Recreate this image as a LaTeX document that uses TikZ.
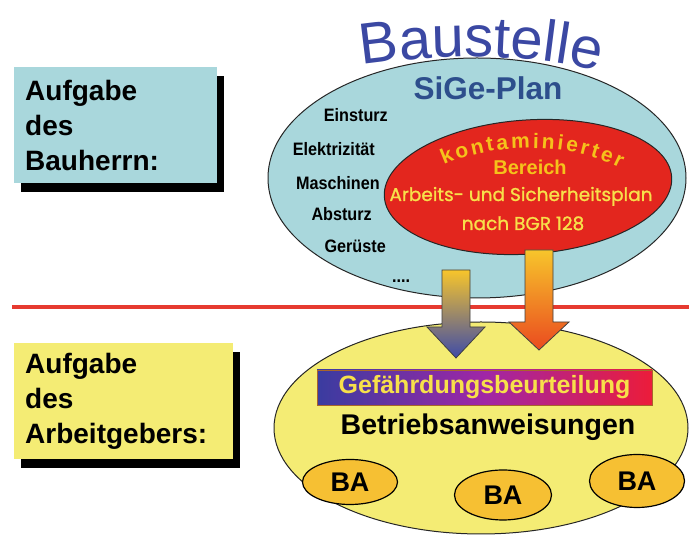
\documentclass[tikz,border=0pt]{standalone}
\usepackage{fontspec}
\setmainfont{Liberation Sans}
\newfontfamily\geofont[FakeBold=1.2]{Poppins}
\newfontfamily\narrowfont[FakeStretch=0.9]{Liberation Sans}
\usepackage{xcolor}
\usetikzlibrary{positioning}
\usetikzlibrary{shapes.geometric}
\usetikzlibrary{shadows}
\usetikzlibrary{decorations.text}
\definecolor{lightteal}{HTML}{A9D7DC}
\definecolor{paleyellow}{HTML}{F4EC74}
\definecolor{signalred}{HTML}{E3261E}
\definecolor{baorange}{HTML}{F6C033}
\definecolor{siteblue}{HTML}{3B48A3}
\definecolor{planblue}{HTML}{2D4E8C}
\definecolor{linered}{HTML}{E63A30}
\definecolor{textyellow}{HTML}{F7E04A}
\definecolor{textamber}{HTML}{F5C21B}
\definecolor{barblue}{HTML}{3A3CA0}
\definecolor{barpurple}{HTML}{A026A6}
\definecolor{barred}{HTML}{EC1C3A}
\definecolor{barrim}{HTML}{A8652A}
\definecolor{arrowtop}{HTML}{F7C52B}
\definecolor{arrowblue}{HTML}{3E4BA8}
\definecolor{arroworange}{HTML}{EA4A1F}
\newcommand\boxfont{\fontsize{28}{35}\selectfont\bfseries}
\newcommand\hazardfont{\narrowfont\fontsize{18}{19}\selectfont\bfseries}
\tikzset{
  % A task box with a hard black shadow
  taskbox/.style={
    draw=none, rectangle, align=left, font=\boxfont, text width=#1,
    inner xsep=11pt, inner ysep=0pt, minimum height=116pt,
    drop shadow={fill=black, opacity=1, shadow xshift=7pt, shadow yshift=-9pt}},
  % An area of the site
  zone/.style={ellipse, draw=black!85, line width=1pt, inner sep=0pt},
  % Hazards listed in the SiGe plan
  hazard/.style={font=\hazardfont, inner sep=0pt},
  % Century-Gothic-like yellow text
  geo/.style={font=\geofont\fontsize{18.5}{19}\selectfont, text=textyellow, inner sep=0pt},
  amber/.style={font=\fontsize{20}{21}\selectfont\bfseries, text=textamber, inner sep=0pt},
  % Operating instruction badge
  badge/.style={ellipse, draw=black, line width=1.2pt, fill=baorange,
    font=\fontsize{27}{28}\selectfont\bfseries, inner sep=0pt},
  riskbar/.style={rectangle, draw=barrim, line width=0.6pt, left color=barblue,
    right color=barred, middle color=barpurple, text=textyellow,
    font=\fontsize{25}{26}\selectfont\bfseries, inner sep=0pt},
  blockarrow/.style={draw=black!75, line width=0.8pt, top color=arrowtop},
  divider/.style={draw=linered, line width=3.5pt},
}
\begin{document}
\begin{tikzpicture}[x=1pt, y=1pt]
\useasboundingbox (0,0) rectangle (689,535);
\fill[white] (0,0) rectangle (689,535);

% who is responsible
\node[taskbox=181pt, fill=lightteal, anchor=north west] (owner) at (14,468) {Aufgabe\\des\\Bauherrn:};
\node[taskbox=197pt, fill=paleyellow, anchor=north west] (employer) at (14,192) {Aufgabe\\des\\Arbeitgebers:};

% the building site
\node[zone, fill=lightteal, minimum width=418pt, minimum height=240pt] (site) at (477,357) {};
\path[decorate, decoration={text along path, text align=center, text color=siteblue,
  text={|\fontsize{58}{58}\selectfont|Baustelle}}]
  (343,467) .. controls (425,482) and (535,484) .. (617,459);
\node[font=\fontsize{31.5}{32}\selectfont\bfseries, text=planblue, anchor=base] (plan) at (488,435) {SiGe-Plan};

\node[hazard, anchor=base east] (collapse) at (388,413) {Einsturz};
\node[hazard, anchor=base east] (power) at (375,379) {Elektrizität};
\node[hazard, anchor=base east] (machines) at (380,345) {Maschinen};
\node[hazard, anchor=base east] (fall) at (372,314) {Absturz};
\node[hazard, anchor=base east] (scaffold) at (386,282) {Gerüste};
\node[hazard, anchor=base] (more) at (401,252) {....};

% contaminated area
\node[zone, fill=signalred, minimum width=288pt, minimum height=134pt, rotate=4] (contam) at (528,348) {};
\path[decorate, decoration={text along path, text align=fit to path, text color=textamber,
  text={|\fontsize{21}{22}\selectfont\bfseries|kontaminierter}}]
  (444,370) .. controls (495,393) and (570,393) .. (620,367);
\node[amber, anchor=base] (area) at (530,360) {Bereich};
\node[geo, anchor=base] (asp) at (521,334) {Arbeits- und Sicherheitsplan};
\node[geo, anchor=base] (bgr) at (523,305) {nach BGR 128};

\draw[divider] (12,228) -- (689,228);

% the employer's part
\node[zone, fill=paleyellow, minimum width=414pt, minimum height=212pt] (works) at (481,107) {};
\node[riskbar, minimum width=335pt, minimum height=35pt] (risk) at (484.5,147.5) {Gefährdungsbeurteilung};
\node[font=\fontsize{28.5}{30}\selectfont\bfseries, anchor=base] (rules) at (488,100) {Betriebsanweisungen};
\node[badge, minimum width=95pt, minimum height=45pt] (ba1) at (350,53) {BA};
\node[badge, minimum width=97pt, minimum height=50pt] (ba2) at (503,40) {BA};
\node[badge, minimum width=95pt, minimum height=53pt] (ba3) at (637,54) {BA};

% hand-over arrows
\shadedraw[blockarrow, bottom color=arrowblue]
  (442,265) -- (470,265) -- (470,208) -- (485,208) -- (456,177) -- (427,208) -- (442,208) -- cycle;
\shadedraw[blockarrow, bottom color=arroworange]
  (525,285) -- (553,285) -- (553,213) -- (569,213) -- (539,185) -- (509,213) -- (525,213) -- cycle;

\end{tikzpicture}
\end{document}
